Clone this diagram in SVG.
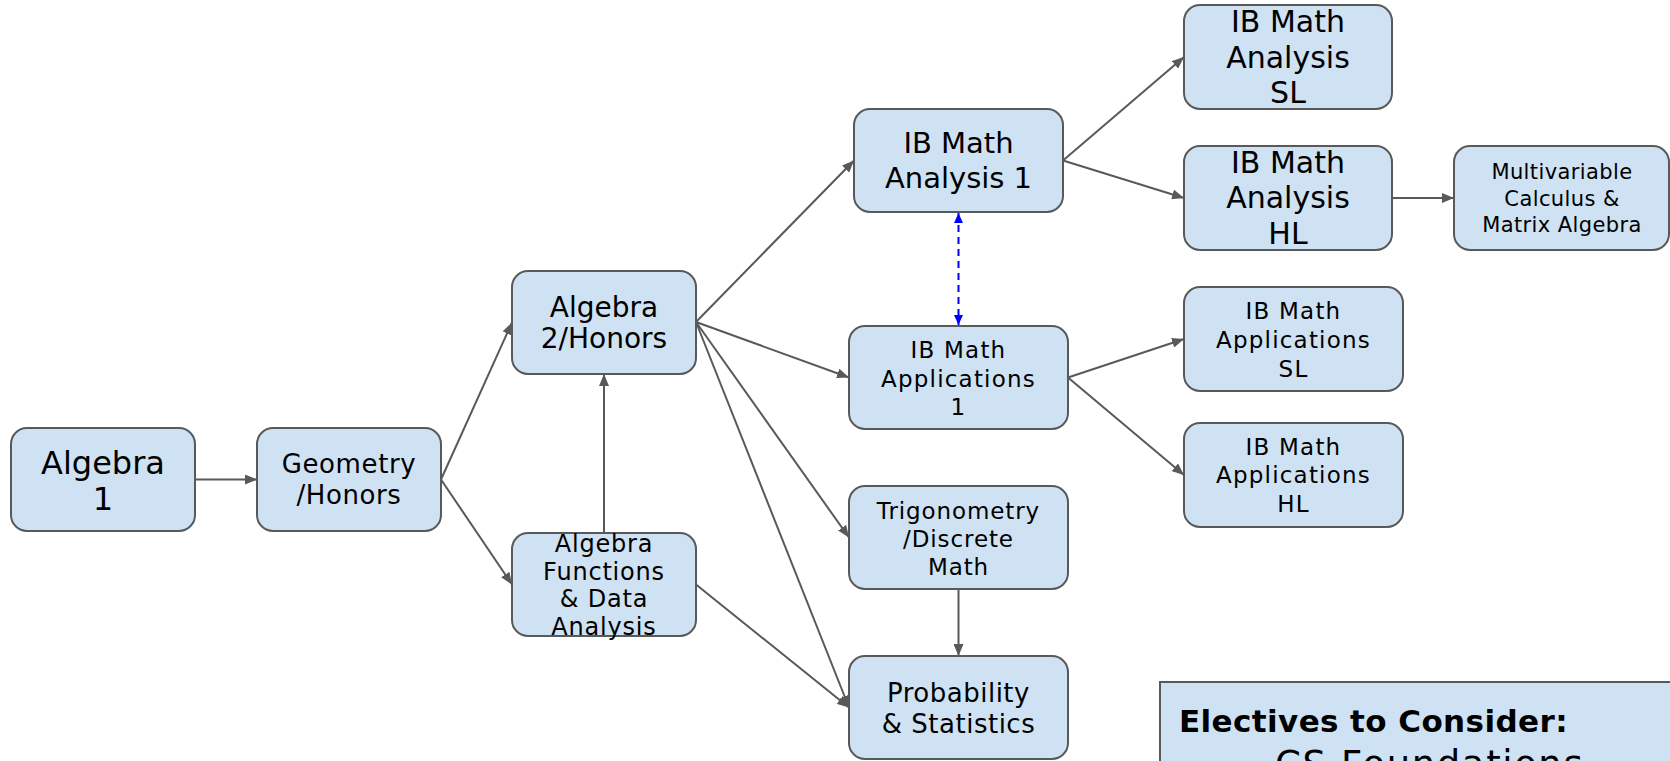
<svg xmlns="http://www.w3.org/2000/svg" width="1670" height="761" viewBox="0 0 1670 761">
  <defs>
    <style>
      .box { fill: #cfe2f3; stroke: #595959; stroke-width: 2; }
      .t { font-family: "DejaVu Sans", "Liberation Sans", sans-serif; fill: #000; text-anchor: middle; }
      .tl { font-family: "DejaVu Sans", "Liberation Sans", sans-serif; fill: #000; text-anchor: start; }
      .edge { stroke: #595959; stroke-width: 2; fill: none; marker-end: url(#ah); }
      .dash { stroke: #0000ff; stroke-width: 2; fill: none; stroke-dasharray: 7 5; marker-start: url(#bh); marker-end: url(#bh); }
    </style>
    <marker id="ah" markerUnits="userSpaceOnUse" markerWidth="12" markerHeight="10" refX="12" refY="5" orient="auto">
      <path d="M0,0 L12,5 L0,10 z" fill="#595959"/>
    </marker>
    <marker id="bh" markerUnits="userSpaceOnUse" markerWidth="10" markerHeight="9" refX="10" refY="4.5" orient="auto-start-reverse">
      <path d="M0,0 L10,4.5 L0,9 z" fill="#0000ff"/>
    </marker>
  </defs>
  <rect width="1670" height="761" fill="#ffffff"/>

  <g id="connectors">
    <line class="edge" x1="195" y1="479.5" x2="257" y2="479.5"/>
    <line class="edge" x1="441" y1="479.5" x2="512" y2="322.5"/>
    <line class="edge" x1="441" y1="479.5" x2="512" y2="584.5"/>
    <line class="edge" x1="604" y1="533" x2="604" y2="374"/>
    <line class="edge" x1="696" y1="322" x2="854" y2="160.5"/>
    <line class="edge" x1="696" y1="322" x2="849" y2="377.5"/>
    <line class="edge" x1="696" y1="322" x2="849" y2="537.5"/>
    <line class="edge" x1="696" y1="322" x2="849" y2="707.5"/>
    <line class="edge" x1="696" y1="584.5" x2="849" y2="707.5"/>
    <line class="edge" x1="958.5" y1="589" x2="958.5" y2="656"/>
    <line class="edge" x1="1063" y1="160.5" x2="1184" y2="57"/>
    <line class="edge" x1="1063" y1="160.5" x2="1184" y2="198"/>
    <line class="edge" x1="1392" y1="198" x2="1454" y2="198"/>
    <line class="edge" x1="1068" y1="377.5" x2="1184" y2="339"/>
    <line class="edge" x1="1068" y1="377.5" x2="1184" y2="475"/>
    <line class="dash" x1="958.5" y1="213" x2="958.5" y2="325"/>
  </g>

  <g id="algebra1">
    <rect class="box" x="11" y="428" width="184" height="103" rx="16"/>
    <text class="t" font-size="32"><tspan x="103" y="474">Algebra</tspan><tspan x="103" y="510">1</tspan></text>
  </g>

  <g id="geometry">
    <rect class="box" x="257" y="428" width="184" height="103" rx="16"/>
    <text class="t" font-size="26" letter-spacing="0.6"><tspan x="349" y="473">Geometry</tspan><tspan x="349" y="504">/Honors</tspan></text>
  </g>

  <g id="algebra2">
    <rect class="box" x="512" y="271" width="184" height="103" rx="16"/>
    <text class="t" font-size="28"><tspan x="604" y="317">Algebra</tspan><tspan x="604" y="348">2/Honors</tspan></text>
  </g>

  <g id="afda">
    <rect class="box" x="512" y="533" width="184" height="103" rx="16"/>
    <text class="t" font-size="24" letter-spacing="0.8"><tspan x="604" y="552">Algebra</tspan><tspan x="604" y="580">Functions</tspan><tspan x="604" y="607">&amp; Data</tspan><tspan x="604" y="635">Analysis</tspan></text>
  </g>

  <g id="ibAnalysis1">
    <rect class="box" x="854" y="109" width="209" height="103" rx="16"/>
    <text class="t" font-size="29"><tspan x="958.5" y="153">IB Math</tspan><tspan x="958.5" y="188">Analysis 1</tspan></text>
  </g>

  <g id="ibApplications1">
    <rect class="box" x="849" y="326" width="219" height="103" rx="16"/>
    <text class="t" font-size="23" letter-spacing="1.2"><tspan x="958.5" y="358">IB Math</tspan><tspan x="958.5" y="387">Applications</tspan><tspan x="958.5" y="415">1</tspan></text>
  </g>

  <g id="trig">
    <rect class="box" x="849" y="486" width="219" height="103" rx="16"/>
    <text class="t" font-size="23" letter-spacing="0.9"><tspan x="958.5" y="519">Trigonometry</tspan><tspan x="958.5" y="547">/Discrete</tspan><tspan x="958.5" y="575">Math</tspan></text>
  </g>

  <g id="probStats">
    <rect class="box" x="849" y="656" width="219" height="103" rx="16"/>
    <text class="t" font-size="26" letter-spacing="0.5"><tspan x="958.5" y="702">Probability</tspan><tspan x="958.5" y="733">&amp; Statistics</tspan></text>
  </g>

  <g id="ibAnalysisSL">
    <rect class="box" x="1184" y="5" width="208" height="104" rx="16"/>
    <text class="t" font-size="30"><tspan x="1288" y="32">IB Math</tspan><tspan x="1288" y="68">Analysis</tspan><tspan x="1288" y="103">SL</tspan></text>
  </g>

  <g id="ibAnalysisHL">
    <rect class="box" x="1184" y="146" width="208" height="104" rx="16"/>
    <text class="t" font-size="30"><tspan x="1288" y="173">IB Math</tspan><tspan x="1288" y="208">Analysis</tspan><tspan x="1288" y="244">HL</tspan></text>
  </g>

  <g id="multivariable">
    <rect class="box" x="1454" y="146" width="215" height="104" rx="16"/>
    <text class="t" font-size="21" letter-spacing="0.4"><tspan x="1562" y="179">Multivariable</tspan><tspan x="1562" y="206">Calculus &amp;</tspan><tspan x="1562" y="232">Matrix Algebra</tspan></text>
  </g>

  <g id="ibApplicationsSL">
    <rect class="box" x="1184" y="287" width="219" height="104" rx="16"/>
    <text class="t" font-size="23" letter-spacing="1.2"><tspan x="1293.5" y="319">IB Math</tspan><tspan x="1293.5" y="348">Applications</tspan><tspan x="1293.5" y="377">SL</tspan></text>
  </g>

  <g id="ibApplicationsHL">
    <rect class="box" x="1184" y="423" width="219" height="104" rx="16"/>
    <text class="t" font-size="23" letter-spacing="1.2"><tspan x="1293.5" y="455">IB Math</tspan><tspan x="1293.5" y="483">Applications</tspan><tspan x="1293.5" y="512">HL</tspan></text>
  </g>

  <g id="electives">
    <rect x="1160" y="682" width="520" height="100" fill="#cfe2f3" stroke="#595959" stroke-width="2"/>
    <text class="tl" font-size="31" font-weight="bold" letter-spacing="0.4" x="1179" y="732">Electives to Consider:</text>
    <text class="tl" font-size="37" letter-spacing="1.6" x="1275" y="777">CS Foundations</text>
  </g>
</svg>
